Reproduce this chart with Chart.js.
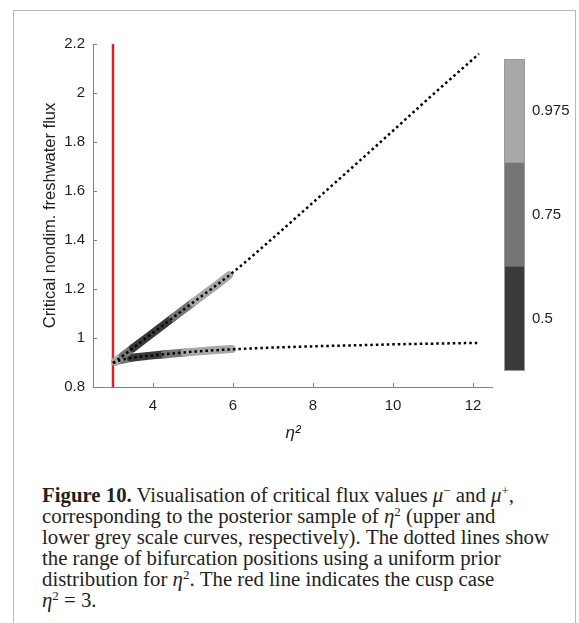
<!DOCTYPE html>
<html><head><meta charset="utf-8">
<script src="https://cdn.jsdelivr.net/npm/chart.js@4/dist/chart.umd.min.js"></script>
<style>
html,body{margin:0;padding:0;background:#fff;width:579px;height:623px;overflow:hidden;}
#frame{position:absolute;left:13px;top:10px;width:561px;height:700px;border:1px solid #b8b8b8;}
#main{position:absolute;left:0;top:0;}
#cbar{position:absolute;left:504px;top:43px;}
#cap{position:absolute;left:42px;top:484px;font-family:"Liberation Serif","Times New Roman",serif;font-size:20.8px;line-height:21px;color:#231f20;white-space:nowrap;}
#cap i{font-style:italic;}
#cap sup{font-size:13px;line-height:0;vertical-align:0.55em;}
</style></head>
<body>
<div id="frame"></div>
<canvas id="main" width="493" height="445"></canvas>
<canvas id="cbar" width="75" height="344"></canvas>
<div id="cap"><b>Figure 10.</b> Visualisation of critical flux values <i>μ</i><sup>−</sup> and <i>μ</i><sup>+</sup>,<br>
corresponding to the posterior sample of <i>η</i><sup>2</sup> (upper and<br>
lower grey scale curves, respectively). The dotted lines show<br>
the range of bifurcation positions using a uniform prior<br>
distribution for <i>η</i><sup>2</sup>. The red line indicates the cusp case<br>
<i>η</i><sup>2</sup> = 3.</div>
<script>
// ---- data ----
const etaPrior = [3.0, 3.25, 3.5, 4.0, 4.5, 5.0, 5.5, 6.0, 7.0, 8.0, 9.0, 10.0, 11.0, 12.15];
const muUpperPrior = [0.898, 0.928, 0.959, 1.021, 1.083, 1.145, 1.205, 1.268, 1.408, 1.553, 1.699, 1.846, 1.994, 2.16];
const etaPriorLow = [3.0, 3.2, 3.5, 4.0, 4.5, 5.0, 6.0, 7.0, 8.0, 9.0, 10.0, 11.0, 12.15];
const muLowerPrior = [0.898, 0.910, 0.920, 0.929, 0.937, 0.944, 0.954, 0.961, 0.966, 0.970, 0.974, 0.977, 0.980];

const etaPostUpper = [3.05, 3.25, 3.5, 4.0, 4.5, 5.0, 5.5, 5.9];
const muPostUpper = [0.904, 0.928, 0.959, 1.021, 1.083, 1.145, 1.205, 1.256];
const levelPostUpper = [2, 1, 0, 0, 1, 2, 2, 2];

const etaPostLower = [3.05, 3.2, 3.45, 4.0, 4.3, 4.8, 5.5, 5.97];
const muPostLower = [0.902, 0.910, 0.919, 0.929, 0.934, 0.941, 0.950, 0.955];
const levelPostLower = [2, 1, 0, 0, 1, 2, 2, 2];

const cuspEta = [3, 3];
const cuspMu = [0.8, 2.2];

const xTicks = [4, 6, 8, 10, 12];
const yTicks = [0.8, 1, 1.2, 1.4, 1.6, 1.8, 2, 2.2];
const cbLevels = ['0.975', '0.75', '0.5'];
const cbColors = ['#a8a8a8', '#757575', '#3a3a3a'];
// level index 0 = 0.5 (dark), 1 = 0.75, 2 = 0.975
const levelColors = ['#3a3a3a', '#757575', '#a8a8a8'];

const pts = (xs, ys) => xs.map((x, i) => ({x: x, y: ys[i]}));
const txt = '#1e1e1e';
const axisCol = '#808080';
const fontTick = {family: 'Liberation Sans, Arial, sans-serif', size: 15};
const fontTitle = {family: 'Liberation Sans, Arial, sans-serif', size: 16.5};

const inwardTicks = {
  id: 'inwardTicks',
  afterDraw(chart) {
    const ctx = chart.ctx, a = chart.chartArea;
    const xs = chart.scales.x, ys = chart.scales.y;
    ctx.save();
    ctx.strokeStyle = axisCol; ctx.lineWidth = 1;
    ctx.beginPath();
    xs.ticks.forEach(t => { const p = Math.round(xs.getPixelForValue(t.value)) + 0.5; ctx.moveTo(p, a.bottom); ctx.lineTo(p, a.bottom - 4); });
    ys.ticks.forEach(t => { const p = Math.round(ys.getPixelForValue(t.value)) + 0.5; ctx.moveTo(a.left, p); ctx.lineTo(a.left + 4, p); });
    ctx.stroke();
    ctx.restore();
  }
};

new Chart(document.getElementById('main'), {
  type: 'scatter',
  data: {
    datasets: [
      {data: pts(etaPrior, muUpperPrior), showLine: true, borderColor: '#000', borderWidth: 2.5, borderDash: [2.5, 3], pointRadius: 0, order: 1, cubicInterpolationMode: 'monotone'},
      {data: pts(etaPriorLow, muLowerPrior), showLine: true, borderColor: '#000', borderWidth: 2.5, borderDash: [2.5, 3], pointRadius: 0, order: 1, cubicInterpolationMode: 'monotone'},
      {data: pts(etaPostUpper, muPostUpper), showLine: true, borderWidth: 8, borderCapStyle: 'round', borderJoinStyle: 'round', pointRadius: 0, order: 2,
        borderColor: levelColors[2], segment: {borderColor: c => levelColors[levelPostUpper[c.p0DataIndex]]}},
      {data: pts(etaPostLower, muPostLower), showLine: true, borderWidth: 8, borderCapStyle: 'round', borderJoinStyle: 'round', pointRadius: 0, order: 2,
        borderColor: levelColors[2], segment: {borderColor: c => levelColors[levelPostLower[c.p0DataIndex]]}},
      {data: pts(cuspEta, cuspMu), showLine: true, borderColor: '#dd2027', borderWidth: 2.5, pointRadius: 0, order: 3}
    ]
  },
  options: {
    responsive: false, animation: false, devicePixelRatio: 1,
    layout: {padding: {top: 44, left: 0, right: 0, bottom: 0}},
    plugins: {legend: {display: false}, tooltip: {enabled: false}},
    scales: {
      x: {
        type: 'linear', min: 2.5, max: 12.5,
        afterBuildTicks: s => { s.ticks = xTicks.map(v => ({value: v})); },
        afterFit: s => { s.height = 58; },
        grid: {drawOnChartArea: false, drawTicks: false},
        border: {color: axisCol, width: 1},
        ticks: {color: txt, font: fontTick, padding: 10, callback: v => String(v)},
        title: {display: true, text: 'η²', color: txt, font: {family: 'Liberation Sans, Arial, sans-serif', size: 17, style: 'italic'}, padding: {top: 0, bottom: 2}}
      },
      y: {
        type: 'linear', min: 0.8, max: 2.2,
        afterBuildTicks: s => { s.ticks = yTicks.map(v => ({value: v})); },
        afterFit: s => { s.width = 93; },
        grid: {drawOnChartArea: false, drawTicks: false},
        border: {color: axisCol, width: 1},
        ticks: {color: txt, font: fontTick, padding: 8, callback: v => String(v)},
        title: {display: true, text: 'Critical nondim. freshwater flux', color: txt, font: fontTitle, padding: {top: 41, bottom: 0}}
      }
    }
  },
  plugins: [inwardTicks]
});

const cbOutline = {
  id: 'cbOutline',
  afterDraw(chart) {
    const a = chart.chartArea, ctx = chart.ctx;
    ctx.save(); ctx.strokeStyle = '#9a9a9a'; ctx.lineWidth = 1;
    ctx.strokeRect(a.left + 0.5, a.top + 0.5, a.right - a.left - 1, a.bottom - a.top - 1);
    ctx.restore();
  }
};

new Chart(document.getElementById('cbar'), {
  type: 'bar',
  data: {labels: cbLevels, datasets: [{data: cbLevels.map(() => 1), backgroundColor: cbColors, barPercentage: 1, categoryPercentage: 1, borderWidth: 0}]},
  options: {
    indexAxis: 'y', responsive: false, animation: false, devicePixelRatio: 1,
    layout: {padding: 0},
    plugins: {legend: {display: false}, tooltip: {enabled: false}},
    scales: {
      x: {display: false, min: 0, max: 1},
      y: {position: 'right', grid: {display: false, drawTicks: false}, border: {display: false},
          afterFit: s => { s.width = 54; },
          ticks: {color: txt, font: fontTick, padding: 7}}
    }
  },
  plugins: [cbOutline]
});
</script>
</body></html>
